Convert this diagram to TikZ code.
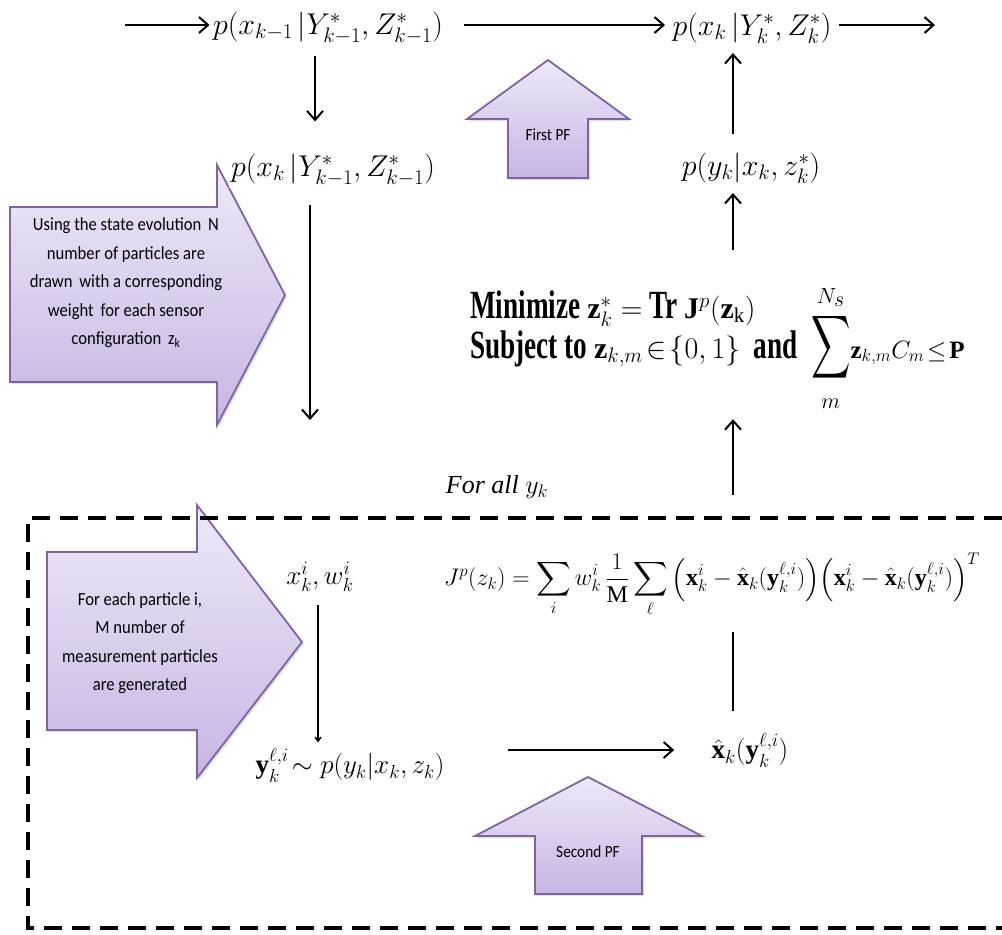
\RequirePackage{fix-cm}
\documentclass[tikz,border=0pt]{standalone}
\usepackage{amsmath,amssymb,graphicx}
\usepackage{fontspec}
\setmainfont{Liberation Serif}
\newfontfamily\calib[FakeStretch=0.9]{Carlito}
\newfontfamily\condserif[FakeStretch=0.68]{Liberation Serif}
\usetikzlibrary{arrows.meta,shadows}
\definecolor{arrowtop}{RGB}{238,232,247}
\definecolor{arrowbot}{RGB}{199,181,228}
\definecolor{arrowrim}{RGB}{128,100,162}
\newcommand{\narrowsum}{\mathop{\scalebox{0.62}[1]{$\displaystyle\sum$}}\limits}
\tikzset{
  flow/.style={line width=2pt,-{Straight Barb[length=9pt,width=16pt]}},
  thinflow/.style={line width=1.5pt,-{Straight Barb[length=4pt,width=6pt]}},
  blockarrow/.style={draw=arrowrim,line width=1.8pt,top color=arrowtop,bottom color=arrowbot,
    drop shadow={shadow xshift=2pt,shadow yshift=-2pt,opacity=0.25}},
  dashbox/.style={line width=4pt,dash pattern=on 18pt off 10pt},
  mathbig/.style={font=\fontsize{30}{36}\selectfont},
  mathmid/.style={font=\fontsize{27}{32}\selectfont},
  arrowtext/.style={font=\calib\fontsize{18.5}{28.5}\selectfont,align=center},
  pftext/.style={font=\calib\fontsize{17}{20}\selectfont},
  optline/.style={anchor=base west,inner sep=0pt,font=\condserif\bfseries\fontsize{40}{46}\selectfont}
}
\begin{document}
\begin{tikzpicture}[x=1pt,y=-1pt]
\useasboundingbox (0,0) rectangle (1002,935);

\draw[blockarrow] (10,207) -- (217,207) -- (217,165) -- (285,295) -- (217,425) -- (217,382) -- (10,382) -- cycle;
\draw[blockarrow] (47,552) -- (197,552) -- (197,505) -- (302,642) -- (197,778) -- (197,730) -- (47,730) -- cycle;
\draw[blockarrow] (548,60) -- (629,119) -- (588,119) -- (588,178) -- (508,178) -- (508,119) -- (467,119) -- cycle;
\draw[blockarrow] (588,777) -- (702,836) -- (642,836) -- (642,894) -- (535,894) -- (535,836) -- (475,836) -- cycle;

\node[arrowtext] (evolve) at (126,283) {Using the state evolution\, N\\number of particles are\\drawn\, with a corresponding\\weight\, for each sensor\\configuration\, z\textsubscript{k}};
\node[arrowtext] (measure) at (140,643) {For each particle i,\\M number of\\measurement particles\\are generated};
\node[pftext] (firstpf) at (548,135) {First PF};
\node[pftext] (secondpf) at (588,852) {Second PF};

\node[mathbig] (prev) at (328,28) {$p(x_{k-1}\,|Y^*_{k-1},Z^*_{k-1})$};
\node[mathbig] (post) at (752,28) {$p(x_k\,|Y^*_k,Z^*_k)$};
\node[mathbig,fill=white,inner sep=2pt] (pred) at (333,170) {$p(x_k\,|Y^*_{k-1},Z^*_{k-1})$};
\node[mathbig] (lik) at (751,168) {$p(y_k|x_k,z^*_k)$};

\node[optline] (opt1) at (470,318) {Minimize {\fontsize{30}{36}\selectfont$\mathbf{z}^*_k =$} Tr {\fontsize{30}{36}\selectfont$\mathbf{J}^p(\mathbf{z}_{\mathrm{k}})$}};
\node[optline] (opt2) at (470,358) {Subject to {\fontsize{30}{36}\selectfont$\mathbf{z}_{k,m}\!\in\!\{0,1\}$}\, and\, {\fontsize{44}{50}\selectfont$\narrowsum_{\scriptscriptstyle m}^{\scriptscriptstyle N_s}$}{\fontsize{25}{30}\selectfont$\mathbf{z}_{k,m}C_m\!\le\!\mathbf{P}$}};

\node[font=\fontsize{26}{30}\selectfont] (forall) at (497,487) {\textit{For all} $y_k$};

\node[mathmid] (xw) at (320,577) {$x^i_k,w^i_k$};
\node[mathmid] (ysamp) at (350,765) {$\mathbf{y}^{\ell,i}_k\!\sim p(y_k|x_k,z_k)$};
\node[mathmid] (xhat) at (750,750) {$\hat{\mathbf{x}}_k(\mathbf{y}^{\ell,i}_k)$};
\node[font=\fontsize{24}{28}\selectfont] (jp) at (712,585) {$J^p(z_k)=\displaystyle\sum_i w^i_k\,\frac{1}{\mathrm{M}}\sum_{\ell}\Big(\mathbf{x}^i_k-\hat{\mathbf{x}}_k(\mathbf{y}^{\ell,i}_k)\Big)\Big(\mathbf{x}^i_k-\hat{\mathbf{x}}_k(\mathbf{y}^{\ell,i}_k)\Big)^T$};

\coordinate (inflow) at (125,25);
\coordinate (outflow) at (935,25);
\coordinate (lcol) at (315,0);
\coordinate (rcol) at (733,0);
\coordinate (bcol) at (318,0);
\coordinate (predend) at (310,420);
\coordinate (jtop) at (733,495);

\draw[flow] (inflow) -- (inflow -| prev.west);
\draw[flow,shorten <=18pt,shorten >=4pt] (prev.east |- inflow) -- (post.west |- inflow);
\draw[flow,shorten <=4pt] (post.east |- outflow) -- (outflow);
\draw[flow,shorten <=8pt,shorten >=30pt] (prev.south -| lcol) -- (pred.north -| lcol);
\draw[flow,shorten <=16pt] (pred.south -| predend) -- (predend);
\draw[flow,shorten <=15pt,shorten >=6pt] (lik.north -| rcol) -- (post.south -| rcol);
\draw[flow,shorten <=40pt,shorten >=6pt] (opt1.north -| rcol) -- (lik.south -| rcol);
\draw[flow,shorten >=6pt] (jtop) -- (opt2.south -| rcol);
\draw[thinflow,shorten <=10pt,shorten >=2pt] (xw.south -| bcol) -- (ysamp.north -| bcol);
\draw[flow,shorten <=60pt,shorten >=34pt] (ysamp.east |- xhat.west) -- (xhat.west);
\draw[line width=2pt,shorten <=18pt,shorten >=12pt] (xhat.north -| rcol) -- (jp.south -| rcol);

\draw[dashbox] (1002,518) -- (28,518) -- (28,928) -- (1002,928);
\end{tikzpicture}
\end{document}
